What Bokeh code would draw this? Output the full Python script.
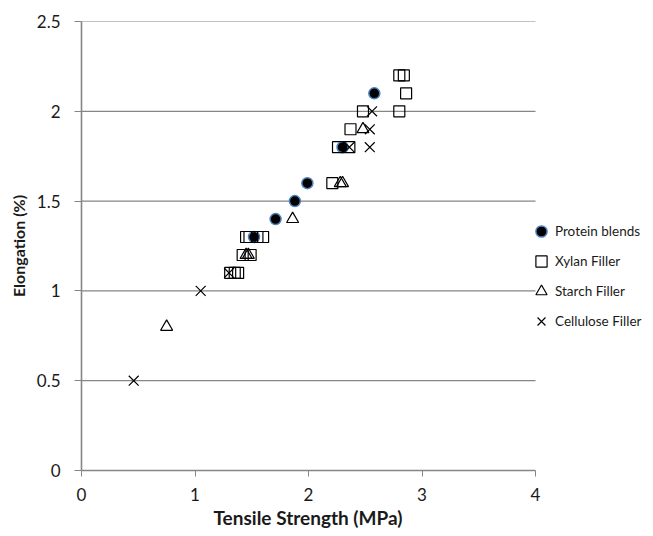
from bokeh.plotting import figure
from bokeh.models import Range1d, FixedTicker, Title
from bokeh.embed import file_html
from bokeh.resources import INLINE

# ---- data ----
protein_x = [2.58, 2.30, 1.99, 1.88, 1.71, 1.52]
protein_y = [2.1, 1.8, 1.6, 1.5, 1.4, 1.3]

xylan_x = [2.80, 2.84, 2.86, 2.48, 2.80, 2.37, 2.26, 2.36, 2.21,
           1.45, 1.48, 1.55, 1.60, 1.42, 1.49, 1.31, 1.35, 1.38]
xylan_y = [2.2, 2.2, 2.1, 2.0, 2.0, 1.9, 1.8, 1.8, 1.6,
           1.3, 1.3, 1.3, 1.3, 1.2, 1.2, 1.1, 1.1, 1.1]

starch_x = [0.75, 1.86, 1.45, 1.47, 2.28, 2.30, 2.48]
starch_y = [0.8, 1.4, 1.2, 1.2, 1.6, 1.6, 1.9]

cellulose_x = [0.46, 1.05, 1.30, 2.36, 2.54, 2.54, 2.56]
cellulose_y = [0.5, 1.0, 1.1, 1.8, 1.8, 1.9, 2.0]

x_ticks = [0, 1, 2, 3, 4]
x_tick_labels = ["0", "1", "2", "3", "4"]
y_ticks = [0, 0.5, 1, 1.5, 2, 2.5]
y_tick_labels = ["0", "0.5", "1", "1.5", "2", "2.5"]

x_title = "Tensile Strength (MPa)"
y_title = "Elongation (%)"

X_MIN, X_MAX = x_ticks[0], x_ticks[-1]
Y_MIN, Y_MAX = y_ticks[0], y_ticks[-1]

FONT = "Lato"
GRAY = "#868686"
TEXT = "#1a1a1a"

W, H = 645, 528
LEFT, TOP, BOTTOM = 81, 21, 58
frame_w = W - LEFT
plot_w = 454.0  # pixels from x=0 to x=4
x_end = X_MAX * frame_w / plot_w   # frame extends right to host the legend

p = figure(width=W, height=H, output_backend="svg", toolbar_location=None,
           x_range=Range1d(X_MIN, x_end), y_range=Range1d(Y_MIN, Y_MAX),
           min_border_left=LEFT, min_border_right=0, min_border_top=TOP,
           min_border_bottom=BOTTOM)
p.outline_line_color = None
p.background_fill_color = "white"
p.grid.visible = False

# horizontal gridlines from the tick list, only across the data area
grid_y = [t for t in y_ticks if t > Y_MIN]
p.segment(x0=[X_MIN] * len(grid_y), x1=[X_MAX] * len(grid_y),
          y0=grid_y, y1=grid_y, line_color=GRAY, line_width=1.2)

p.xaxis.ticker = FixedTicker(ticks=x_ticks)
p.yaxis.ticker = FixedTicker(ticks=y_ticks)
p.xaxis.bounds = (X_MIN, X_MAX)
p.xaxis.major_label_overrides = {t: l for t, l in zip(x_ticks, x_tick_labels)}
p.yaxis.major_label_overrides = {t: l for t, l in zip(y_ticks, y_tick_labels)}

for ax in (p.xaxis, p.yaxis):
    ax.axis_line_color = GRAY
    ax.axis_line_width = 1.6
    ax.major_tick_line_color = GRAY
    ax.major_tick_line_width = 1
    ax.major_tick_in = 0
    ax.minor_tick_line_color = None
    ax.major_label_text_font = FONT
    ax.major_label_text_font_size = "17px"
    ax.major_label_text_color = TEXT
    ax.axis_label_text_font = FONT
    ax.axis_label_text_font_style = "bold"
    ax.axis_label_text_color = TEXT

p.xaxis.major_tick_out = 6
p.yaxis.major_tick_out = 7
p.xaxis.major_label_standoff = 11
p.yaxis.major_label_standoff = 14
p.yaxis.axis_label = y_title
p.yaxis.axis_label_text_font_size = "16px"
p.yaxis.axis_label_standoff = 6

# x-axis title placed under the 0..4 data area (frame is wider for the legend)
p.add_layout(Title(text=x_title, align="left", offset=132,
                   text_font=FONT, text_font_size="19px",
                   text_font_style="bold", text_color=TEXT,
                   standoff=0), "below")

p.scatter(protein_x, protein_y, marker="circle", size=11,
          fill_color="black", line_color="#4F81BD", line_width=1.5,
          legend_label="Protein blends")
p.scatter(xylan_x, xylan_y, marker="square", size=11,
          fill_alpha=0, line_color="black", line_width=1.2,
          legend_label="Xylan Filler")
p.scatter(starch_x, starch_y, marker="triangle", size=12,
          fill_alpha=0, line_color="black", line_width=1.2,
          legend_label="Starch Filler")
p.scatter(cellulose_x, cellulose_y, marker="x", size=14,
          line_color="black", line_width=1.2,
          legend_label="Cellulose Filler")

lg = p.legend[0]
lg.location = (446, 135)
lg.margin = 0
lg.padding = 0
lg.spacing = 2
lg.glyph_width = 28
lg.glyph_height = 28
lg.label_standoff = 0
lg.label_text_font = FONT
lg.label_text_font_size = "13.5px"
lg.label_text_color = TEXT
lg.background_fill_alpha = 0
lg.border_line_alpha = 0

open("out.html", "w").write(file_html(p, INLINE))
